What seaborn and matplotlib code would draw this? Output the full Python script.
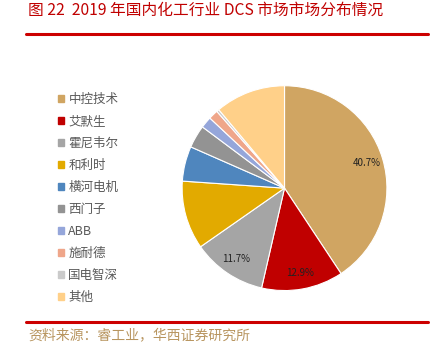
import matplotlib
matplotlib.use("Agg")
import matplotlib.pyplot as plt
import matplotlib.patches as mpatches
import seaborn as sns

# dados
empresas = ["中控技术", "艾默生", "霍尼韦尔", "和利时", "横河电机",
            "西门子", "ABB", "施耐德", "国电智深", "其他"]
participacao = [40.7, 12.9, 11.7, 10.8, 5.5, 3.6, 1.8, 1.5, 0.4, 11.1]
cores = ["#D0A562", "#C00000", "#A5A5A5", "#E2AA00", "#4F86BE",
         "#939393", "#95A6DA", "#EFA68A", "#CACACA", "#FFD089"]
rotulos_visiveis = ["40.7%", "12.9%", "11.7%"]

sns.set_theme(style="white")
plt.rcParams['font.family'] = ['Noto Sans CJK SC', 'DejaVu Sans']

fig = plt.figure(figsize=(4.47, 3.53), dpi=100)

# titulo e linhas vermelhas
fig.text(0.063, 0.970, "图 22  2019 年国内化工行业 DCS 市场市场分布情况",
         color="#C00000", fontsize=11.3, va="center", ha="left")
fig.add_artist(plt.Line2D([0.058, 0.958], [0.903, 0.903], color="#CC0000", lw=2.2))
fig.add_artist(plt.Line2D([0.058, 0.958], [0.088, 0.088], color="#CC0000", lw=2.2))
fig.text(0.063, 0.050, "资料来源：睿工业，华西证券研究所",
         color="#B8955F", fontsize=10, va="center", ha="left")

# pizza
ax = fig.add_axes([0.405, 0.174, 0.463, 0.586])
paleta = sns.color_palette(cores)


def rotulo(pct):
    txt = f"{pct:.1f}%"
    return txt if txt in rotulos_visiveis else ""


wedges, textos, autotextos = ax.pie(
    participacao, colors=paleta, startangle=90, counterclock=False,
    autopct=rotulo, pctdistance=0.84,
    wedgeprops=dict(edgecolor="white", linewidth=0.8),
    textprops=dict(fontsize=7, color="#222222"))
ax.set_xlim(-1.01, 1.01)
ax.set_ylim(-1.01, 1.01)

# legenda
handles = [mpatches.Patch(color=c, label=e) for c, e in zip(cores, empresas)]
fig.legend(handles=handles, loc="upper left", bbox_to_anchor=(0.118, 0.752),
           frameon=False, fontsize=9, labelcolor="#595959",
           handlelength=0.5, handleheight=0.5, handletextpad=0.35,
           labelspacing=0.72, borderaxespad=0)

fig.savefig("out.png", dpi=100)
